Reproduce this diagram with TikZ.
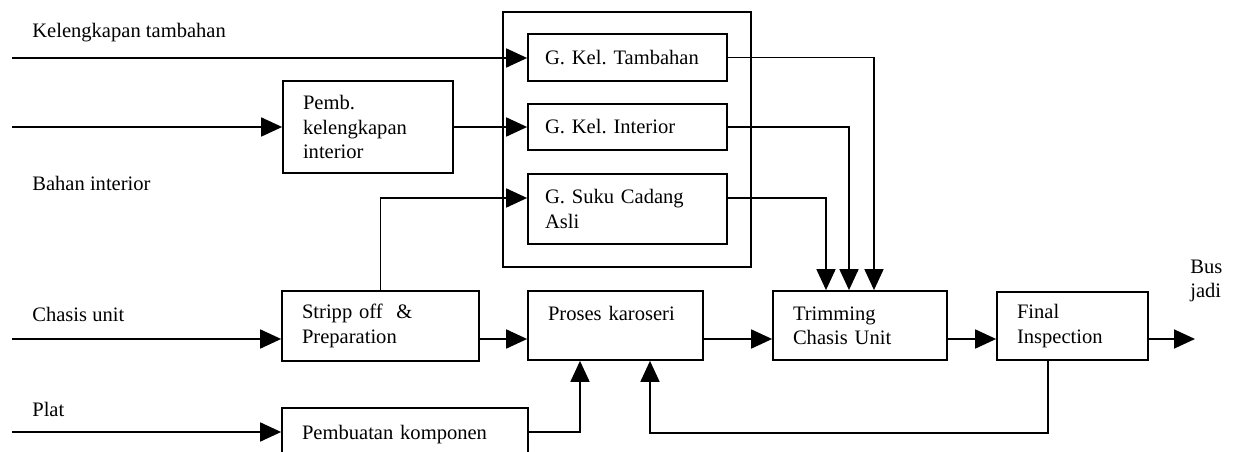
\documentclass[tikz,border=0pt]{standalone}
\usepackage{fontspec}
\setmainfont{Liberation Serif}
\usetikzlibrary{arrows.meta}
\frenchspacing
\tikzset{
  pbox/.style={draw, line width=1pt, align=left, inner xsep=0.4cm, inner ysep=0pt},
  gbox/.style={pbox, inner xsep=0.34cm, text width=3.3cm},
  lbl/.style={anchor=west, inner sep=0pt, align=left},
  flow/.style={line width=1pt, -{Triangle[length=0.42cm,width=0.38cm]}}
}

\begin{document}
\begin{tikzpicture}[x=0.02cm, y=-0.02cm, font=\fontsize{11.7}{13.8}\selectfont]
\clip (0,0) rectangle (1235,452);

\node[pbox, minimum width=4.96cm, minimum height=5.1cm] (grp) at (627,139.5) {};
\node[gbox, minimum height=0.94cm] (gtam) at (627.5,57.5) {G. Kel. Tambahan};
\node[gbox, minimum height=0.92cm] (gint) at (627.5,127) {G. Kel. Interior};
\node[gbox, minimum height=1.4cm] (gsuku) at (627.5,209) {G. Suku Cadang\\Asli};

\node[pbox, text width=2.6cm, minimum height=1.84cm] (pemb) at (368,127) {Pemb.\\kelengkapan\\interior};
\node[pbox, text width=3.14cm, minimum height=1.4cm] (strip) at (380.5,326) {Stripp off \ \&\\Preparation};
\node[pbox, text width=2.7cm, minimum height=1.38cm] (proses) at (615.5,325.5) {Proses karoseri\\\mbox{}};
\node[pbox, text width=2.68cm, minimum height=1.38cm] (trim) at (860,325.5) {Trimming\\Chasis Unit};
\node[pbox, text width=2.22cm, minimum height=1.36cm] (final) at (1072.5,326) {Final\\Inspection};
\node[pbox, text width=4.12cm, minimum height=1.44cm] (pbkomp) at (405,444) {Pembuatan komponen\\\mbox{}};

\node[lbl] (lkel) at (32,33) {Kelengkapan tambahan};
\node[lbl] (lbahan) at (32,183) {Bahan interior};
\node[lbl] (lchasis) at (32,314) {Chasis unit};
\node[lbl] (lplat) at (32,409) {Plat};
\node[lbl] (lbus) at (1190,281) {Bus\\jadi};

\coordinate (inK) at (12,58);
\coordinate (inB) at (12,127);
\coordinate (inC) at (12,339);
\coordinate (inP) at (12,432);
\coordinate (out) at (1195,339);

\draw[flow] (inK) -- (inK -| gtam.west);
\draw[flow] (inB) -- (pemb.west);
\draw[flow] (pemb.east) -- (gint.west);
\draw[flow] (strip.north) |- ([yshift=0.22cm]gsuku.west);
\draw[flow] (inC) -- (inC -| strip.west);
\draw[flow] (inP) -- (inP -| pbkomp.west);
\draw[flow] (strip.east |- inC) -- (proses.west |- inC);
\draw[flow] (proses.east |- inC) -- (trim.west |- inC);
\draw[flow] (trim.east |- inC) -- (final.west |- inC);
\draw[flow] (final.east |- inC) -- (out);
\draw[flow] (pbkomp.east |- inP) -| ([xshift=-0.71cm]proses.south);
\draw[flow] ([xshift=-0.49cm]final.south) -- ++(0,72) -| ([xshift=0.69cm]proses.south);
\draw[flow] (gtam.east) -| ([xshift=0.28cm]trim.north);
\draw[flow] (gint.east) -| ([xshift=-0.22cm]trim.north);
\draw[flow] ([yshift=0.22cm]gsuku.east) -| ([xshift=-0.68cm]trim.north);
\end{tikzpicture}
\end{document}
